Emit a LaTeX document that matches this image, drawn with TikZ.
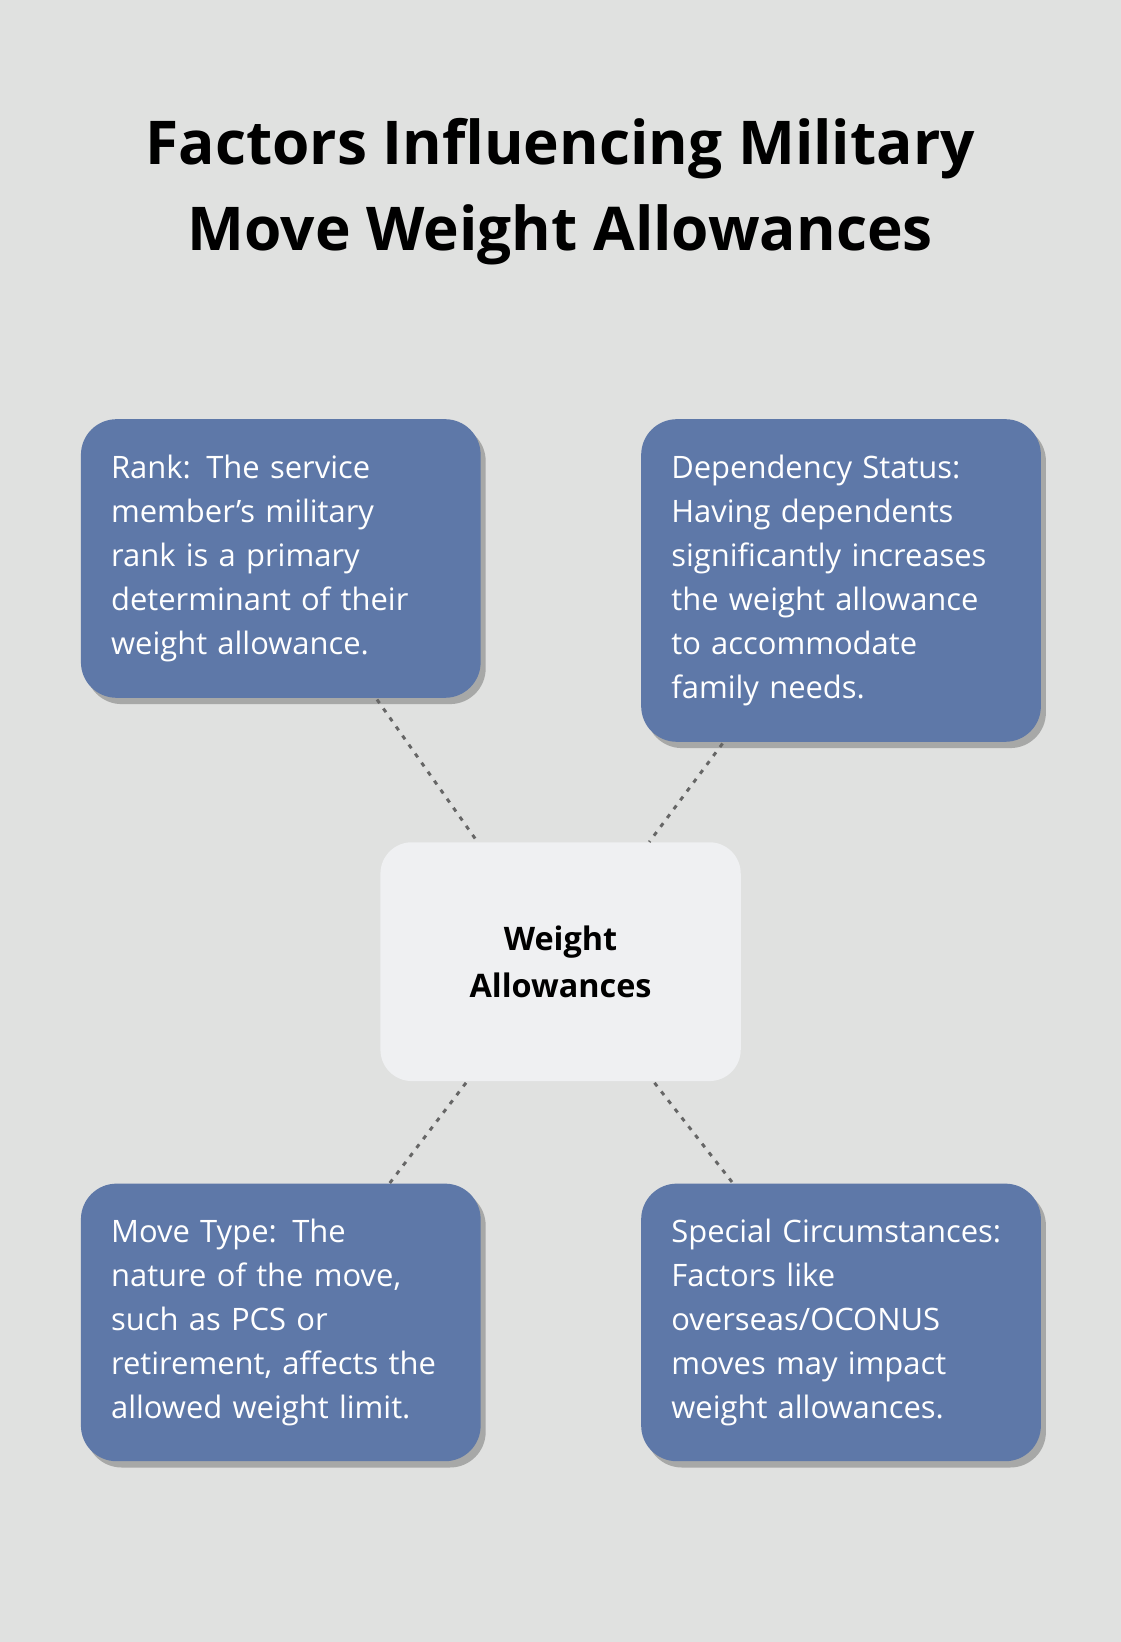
\documentclass[tikz,border=0pt]{standalone}
\usepackage{fontspec}
\setmainfont{Open Sans}
\usetikzlibrary{shadows,positioning}
\definecolor{bgback}{HTML}{E0E1E0}
\definecolor{boxblue}{HTML}{5E78A8}
\definecolor{hubwhite}{HTML}{EFF0F2}
\definecolor{linkgray}{HTML}{666666}
\tikzset{
  factor/.style={rounded corners=0.85cm, fill=boxblue, text=white, align=left,
    text width=8.1cm, inner xsep=0.72cm, minimum width=9.525cm, anchor=north west,
    font=\fontsize{21}{29.8}\selectfont,
    drop shadow={shadow xshift=0.12cm, shadow yshift=-0.15cm, opacity=0.25, fill=black}},
  hub/.style={rounded corners=0.75cm, fill=hubwhite, align=center,
    minimum width=8.6cm, minimum height=5.7cm, anchor=north west,
    font=\bfseries\fontsize{22}{31.5}\selectfont},
  link/.style={linkgray, line width=2pt, dash pattern=on 3pt off 4.5pt}
}
\begin{document}
\begin{tikzpicture}[x=0.025cm, y=-0.025cm]
    % Background
    \fill[bgback] (0,0) rectangle (1070,1568);
    % Title
    \node[align=center, font=\bfseries\fontsize{41}{58}\selectfont] (title) at (535,183)
        {Factors Influencing Military\\Move Weight Allowances};
    % Factors
    \node[factor, minimum height=6.65cm] (rank) at (77,400)
        {Rank: The service\\member's military\\rank is a primary\\determinant of their\\weight allowance.};
    \node[factor, minimum height=7.7cm] (dependency) at (612,400)
        {Dependency Status:\\Having dependents\\significantly increases\\the weight allowance\\to accommodate\\family needs.};
    \node[factor, minimum height=6.625cm] (movetype) at (77,1130)
        {Move Type: The\\nature of the move,\\such as PCS or\\retirement, affects the\\allowed weight limit.};
    \node[factor, minimum height=6.625cm] (special) at (612,1130)
        {Special Circumstances:\\Factors like\\overseas/OCONUS\\moves may impact\\weight allowances.};
    % Hub
    \node[hub] (weight) at (363,804) {Weight\\Allowances};
    % Links
    \coordinate (rankend) at (360,668);
    \coordinate (depend) at (690,710);
    \coordinate (moveend) at (372,1130);
    \coordinate (specend) at (700,1130);
    \coordinate (hubtl) at (456,804);
    \coordinate (hubtr) at (620,804);
    \coordinate (hubbl) at (445,1034);
    \coordinate (hubbr) at (625,1034);
    \draw[link] (rankend) -- (hubtl);
    \draw[link] (depend) -- (hubtr);
    \draw[link] (hubbl) -- (moveend);
    \draw[link] (hubbr) -- (specend);
\end{tikzpicture}
\end{document}
